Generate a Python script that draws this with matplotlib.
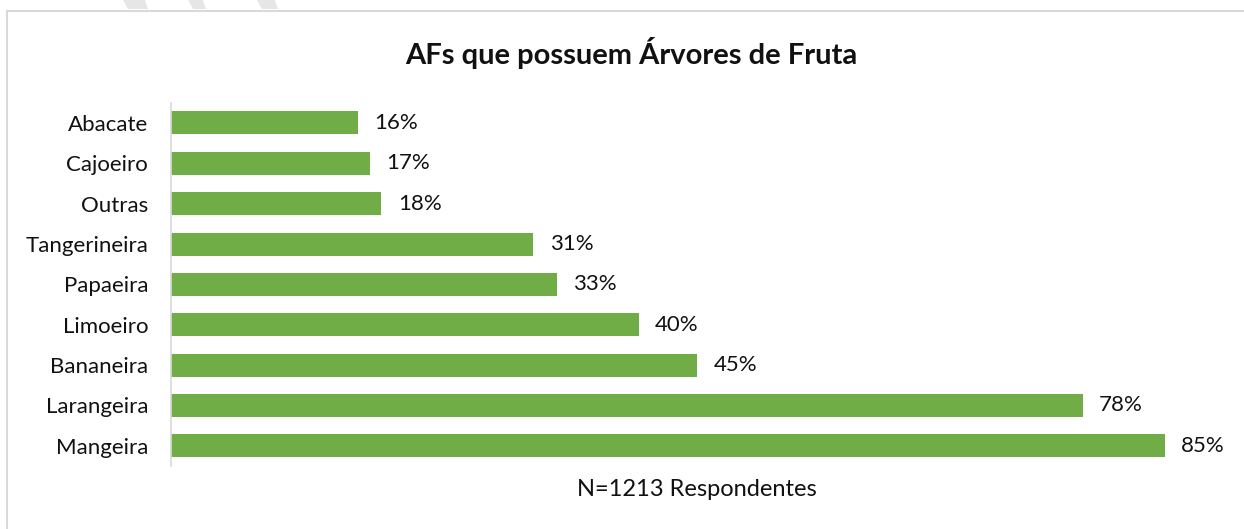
import matplotlib.pyplot as plt
from matplotlib.patches import Polygon
from matplotlib.lines import Line2D

categories = ['Mangeira', 'Larangeira', 'Bananeira', 'Limoeiro', 'Papaeira',
              'Tangerineira', 'Outras', 'Cajoeiro', 'Abacate']
values = [85, 78, 45, 40, 33, 31, 18, 17, 16]

GREEN = '#70AD47'
plt.rcParams['font.family'] = ['Lato', 'DejaVu Sans']

W, H = 1244, 529
fig = plt.figure(figsize=(W / 100, H / 100), dpi=100)

# frame lines around the chart
fig.add_artist(Line2D([6.5 / W, 1], [1 - 10.5 / H, 1 - 10.5 / H], color='#d9d9d9', lw=1.5))
fig.add_artist(Line2D([6.5 / W, 6.5 / W], [0, 1 - 10.5 / H], color='#d9d9d9', lw=1.5))

# faint diagonal stripes at the top edge
for x0, x1 in [(123, 145), (188, 203), (257, 275)]:
    fig.add_artist(Polygon([(x0 / W, 1), (x1 / W, 1), (x1 / W + 3 / W, 1 - 9 / H), (x0 / W + 5 / W, 1 - 9 / H)],
                           closed=True, facecolor='#e6e6e6', edgecolor='none', transform=fig.transFigure))

left, right = 171 / W, 1223 / W
bottom, top = 1 - 466 / H, 1 - 102.8 / H
ax = fig.add_axes([left, bottom, right - left, top - bottom])

y = range(len(categories))
ax.barh(y, values, height=0.57, color=GREEN)
for i, v in enumerate(values):
    ax.text(v + 1.4, i, f'{v}%', va='center', ha='left', fontsize=16, color='#111111')

ax.set_xlim(0, 90)
ax.set_ylim(-0.5, len(categories) - 0.5)
ax.set_yticks(list(y))
ax.set_yticklabels(categories, fontsize=16, color='#111111')
ax.tick_params(axis='y', length=0, pad=16.5)
ax.set_xticks([])
for s in ['top', 'right', 'bottom']:
    ax.spines[s].set_visible(False)
ax.spines['left'].set_color('#d9d9d9')
ax.spines['left'].set_linewidth(1.2)

fig.text(631 / W, 1 - 53 / H, 'AFs que possuem Árvores de Fruta', ha='center', va='center',
         fontsize=21, fontweight='bold', color='#111111')
fig.text(697 / W, 1 - 490 / H, 'N=1213 Respondentes', ha='center', va='center',
         fontsize=17, color='#111111')

fig.savefig('out.png', dpi=100)
